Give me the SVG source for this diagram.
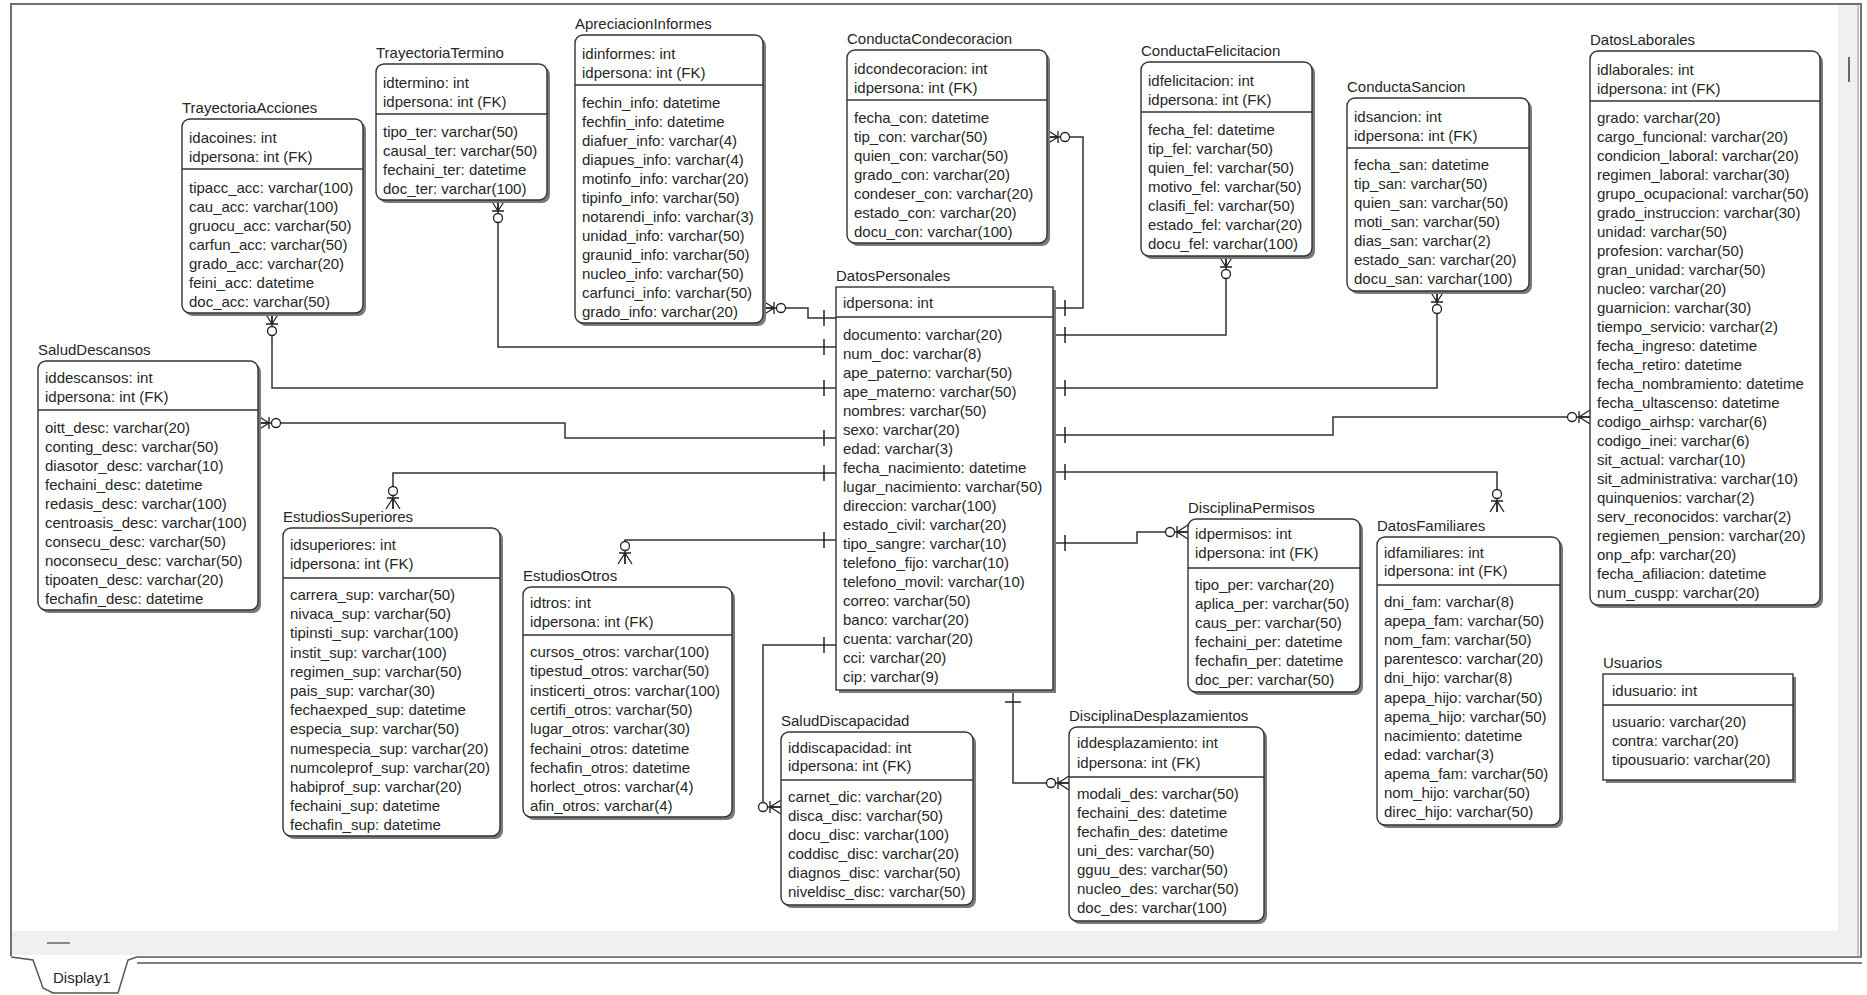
<svg xmlns="http://www.w3.org/2000/svg" width="1867" height="995" viewBox="0 0 1867 995">
<style>
text{font-family:"Liberation Sans",Arial,sans-serif;font-size:15px;fill:#262626}
.sh{fill:#7a7a7a}
.bx{fill:#fff;stroke:#333;stroke-width:1.4}
.dv{stroke:#333;stroke-width:1.4}
.cn{fill:none;stroke:#333;stroke-width:1.5}
.frm{fill:none;stroke:#707070;stroke-width:2}
</style>
<defs>
<marker id="zm" viewBox="-28 -10 30 20" refX="0" refY="0" markerWidth="30" markerHeight="20" markerUnits="userSpaceOnUse" orient="auto">
<path d="M-11,0 L0,-7 M-11,0 L0,0 M-11,0 L0,7 M-11,-6 L-11,6" fill="none" stroke="#222" stroke-width="1.3"/>
<circle cx="-18" cy="0" r="4.5" fill="#fff" stroke="#222" stroke-width="1.3"/>
</marker>
<marker id="one" viewBox="-20 -10 22 20" refX="0" refY="0" markerWidth="22" markerHeight="20" markerUnits="userSpaceOnUse" orient="auto-start-reverse">
<path d="M-12,-8 L-12,8" fill="none" stroke="#222" stroke-width="1.5"/>
</marker>
</defs>
<rect x="0" y="0" width="1867" height="995" fill="#fff"/>
<g id="frame">
<rect x="1838" y="5" width="21" height="927" fill="#f0f0f0"/>
<line x1="1849" y1="57" x2="1849" y2="82" stroke="#666" stroke-width="2"/>
<rect x="12" y="931" width="1847" height="24" fill="#f0f0f0"/>
<line x1="47" y1="943" x2="70" y2="943" stroke="#888" stroke-width="2"/>
<path class="frm" d="M11,956 V4 H1861 V956"/>
<line x1="1858" y1="5" x2="1858" y2="956" stroke="#999" stroke-width="1"/>
<path d="M11,957 L33,960 L43,988 L53,993 L118,993 L128,960 L137,957 H1862" fill="none" stroke="#555" stroke-width="1.5"/>
<line x1="137" y1="963" x2="1862" y2="963" stroke="#555" stroke-width="1.5"/>
<text x="53" y="983">Display1</text>
</g>
<g id="connectors">
<path class="cn" marker-start="url(#one)" marker-end="url(#zm)" d="M836,318 H808 V308 H763"/>
<path class="cn" marker-start="url(#one)" marker-end="url(#zm)" d="M836,347 H498 V200"/>
<path class="cn" marker-start="url(#one)" marker-end="url(#zm)" d="M836,388 H272 V313"/>
<path class="cn" marker-start="url(#one)" marker-end="url(#zm)" d="M836,438 H565 V423 H258"/>
<path class="cn" marker-start="url(#one)" marker-end="url(#zm)" d="M836,473 H393 V509"/>
<path class="cn" marker-start="url(#one)" marker-end="url(#zm)" d="M836,540 H625 V564"/>
<path class="cn" marker-start="url(#one)" marker-end="url(#zm)" d="M836,645 H763 V807 H781"/>
<path class="cn" marker-start="url(#one)" marker-end="url(#zm)" d="M1053,308 H1083 V137 H1047"/>
<path class="cn" marker-start="url(#one)" marker-end="url(#zm)" d="M1053,335 H1226 V256"/>
<path class="cn" marker-start="url(#one)" marker-end="url(#zm)" d="M1053,388 H1437 V291"/>
<path class="cn" marker-start="url(#one)" marker-end="url(#zm)" d="M1053,435 H1333 V417 H1590"/>
<path class="cn" marker-start="url(#one)" marker-end="url(#zm)" d="M1053,472 H1497 V512"/>
<path class="cn" marker-start="url(#one)" marker-end="url(#zm)" d="M1053,543 H1137 V532 H1188"/>
<path class="cn" marker-start="url(#one)" marker-end="url(#zm)" d="M1013,690 V783 H1069"/>
</g>

<g id="TrayectoriaAcciones" transform="translate(182,119)">
<text x="0" y="-6">TrayectoriaAcciones</text>
<rect class="sh" x="3" y="3" width="181" height="194" rx="8"/>
<rect class="bx" width="181" height="194" rx="8"/>
<line class="dv" x1="0" y1="50" x2="181" y2="50"/>
<text x="7" y="24">idacoines: int</text>
<text x="7" y="43">idpersona: int (FK)</text>
<text x="7" y="74"><tspan>tipacc_acc: varchar(100)</tspan><tspan x="7" dy="19">cau_acc: varchar(100)</tspan><tspan x="7" dy="19">gruocu_acc: varchar(50)</tspan><tspan x="7" dy="19">carfun_acc: varchar(50)</tspan><tspan x="7" dy="19">grado_acc: varchar(20)</tspan><tspan x="7" dy="19">feini_acc: datetime</tspan><tspan x="7" dy="19">doc_acc: varchar(50)</tspan></text>
</g>

<g id="TrayectoriaTermino" transform="translate(376,64)">
<text x="0" y="-6">TrayectoriaTermino</text>
<rect class="sh" x="3" y="3" width="171" height="136" rx="8"/>
<rect class="bx" width="171" height="136" rx="8"/>
<line class="dv" x1="0" y1="50" x2="171" y2="50"/>
<text x="7" y="24">idtermino: int</text>
<text x="7" y="43">idpersona: int (FK)</text>
<text x="7" y="73"><tspan>tipo_ter: varchar(50)</tspan><tspan x="7" dy="19">causal_ter: varchar(50)</tspan><tspan x="7" dy="19">fechaini_ter: datetime</tspan><tspan x="7" dy="19">doc_ter: varchar(100)</tspan></text>
</g>

<g id="ApreciacionInformes" transform="translate(575,35)">
<text x="0" y="-6">ApreciacionInformes</text>
<rect class="sh" x="3" y="3" width="188" height="288" rx="8"/>
<rect class="bx" width="188" height="288" rx="8"/>
<line class="dv" x1="0" y1="50" x2="188" y2="50"/>
<text x="7" y="24">idinformes: int</text>
<text x="7" y="43">idpersona: int (FK)</text>
<text x="7" y="73"><tspan>fechin_info: datetime</tspan><tspan x="7" dy="19">fechfin_info: datetime</tspan><tspan x="7" dy="19">diafuer_info: varchar(4)</tspan><tspan x="7" dy="19">diapues_info: varchar(4)</tspan><tspan x="7" dy="19">motinfo_info: varchar(20)</tspan><tspan x="7" dy="19">tipinfo_info: varchar(50)</tspan><tspan x="7" dy="19">notarendi_info: varchar(3)</tspan><tspan x="7" dy="19">unidad_info: varchar(50)</tspan><tspan x="7" dy="19">graunid_info: varchar(50)</tspan><tspan x="7" dy="19">nucleo_info: varchar(50)</tspan><tspan x="7" dy="19">carfunci_info: varchar(50)</tspan><tspan x="7" dy="19">grado_info: varchar(20)</tspan></text>
</g>

<g id="ConductaCondecoracion" transform="translate(847,50)">
<text x="0" y="-6">ConductaCondecoracion</text>
<rect class="sh" x="3" y="3" width="200" height="193" rx="8"/>
<rect class="bx" width="200" height="193" rx="8"/>
<line class="dv" x1="0" y1="50" x2="200" y2="50"/>
<text x="7" y="24">idcondecoracion: int</text>
<text x="7" y="43">idpersona: int (FK)</text>
<text x="7" y="73"><tspan>fecha_con: datetime</tspan><tspan x="7" dy="19">tip_con: varchar(50)</tspan><tspan x="7" dy="19">quien_con: varchar(50)</tspan><tspan x="7" dy="19">grado_con: varchar(20)</tspan><tspan x="7" dy="19">condeser_con: varchar(20)</tspan><tspan x="7" dy="19">estado_con: varchar(20)</tspan><tspan x="7" dy="19">docu_con: varchar(100)</tspan></text>
</g>

<g id="ConductaFelicitacion" transform="translate(1141,62)">
<text x="0" y="-6">ConductaFelicitacion</text>
<rect class="sh" x="3" y="3" width="171" height="194" rx="8"/>
<rect class="bx" width="171" height="194" rx="8"/>
<line class="dv" x1="0" y1="50" x2="171" y2="50"/>
<text x="7" y="24">idfelicitacion: int</text>
<text x="7" y="43">idpersona: int (FK)</text>
<text x="7" y="73"><tspan>fecha_fel: datetime</tspan><tspan x="7" dy="19">tip_fel: varchar(50)</tspan><tspan x="7" dy="19">quien_fel: varchar(50)</tspan><tspan x="7" dy="19">motivo_fel: varchar(50)</tspan><tspan x="7" dy="19">clasifi_fel: varchar(50)</tspan><tspan x="7" dy="19">estado_fel: varchar(20)</tspan><tspan x="7" dy="19">docu_fel: varchar(100)</tspan></text>
</g>

<g id="ConductaSancion" transform="translate(1347,98)">
<text x="0" y="-6">ConductaSancion</text>
<rect class="sh" x="3" y="3" width="182" height="193" rx="8"/>
<rect class="bx" width="182" height="193" rx="8"/>
<line class="dv" x1="0" y1="50" x2="182" y2="50"/>
<text x="7" y="24">idsancion: int</text>
<text x="7" y="43">idpersona: int (FK)</text>
<text x="7" y="72"><tspan>fecha_san: datetime</tspan><tspan x="7" dy="19">tip_san: varchar(50)</tspan><tspan x="7" dy="19">quien_san: varchar(50)</tspan><tspan x="7" dy="19">moti_san: varchar(50)</tspan><tspan x="7" dy="19">dias_san: varchar(2)</tspan><tspan x="7" dy="19">estado_san: varchar(20)</tspan><tspan x="7" dy="19">docu_san: varchar(100)</tspan></text>
</g>

<g id="DatosLaborales" transform="translate(1590,51)">
<text x="0" y="-6">DatosLaborales</text>
<rect class="sh" x="3" y="3" width="230" height="554" rx="8"/>
<rect class="bx" width="230" height="554" rx="8"/>
<line class="dv" x1="0" y1="50" x2="230" y2="50"/>
<text x="7" y="24">idlaborales: int</text>
<text x="7" y="43">idpersona: int (FK)</text>
<text x="7" y="72"><tspan>grado: varchar(20)</tspan><tspan x="7" dy="19">cargo_funcional: varchar(20)</tspan><tspan x="7" dy="19">condicion_laboral: varchar(20)</tspan><tspan x="7" dy="19">regimen_laboral: varchar(30)</tspan><tspan x="7" dy="19">grupo_ocupacional: varchar(50)</tspan><tspan x="7" dy="19">grado_instruccion: varchar(30)</tspan><tspan x="7" dy="19">unidad: varchar(50)</tspan><tspan x="7" dy="19">profesion: varchar(50)</tspan><tspan x="7" dy="19">gran_unidad: varchar(50)</tspan><tspan x="7" dy="19">nucleo: varchar(20)</tspan><tspan x="7" dy="19">guarnicion: varchar(30)</tspan><tspan x="7" dy="19">tiempo_servicio: varchar(2)</tspan><tspan x="7" dy="19">fecha_ingreso: datetime</tspan><tspan x="7" dy="19">fecha_retiro: datetime</tspan><tspan x="7" dy="19">fecha_nombramiento: datetime</tspan><tspan x="7" dy="19">fecha_ultascenso: datetime</tspan><tspan x="7" dy="19">codigo_airhsp: varchar(6)</tspan><tspan x="7" dy="19">codigo_inei: varchar(6)</tspan><tspan x="7" dy="19">sit_actual: varchar(10)</tspan><tspan x="7" dy="19">sit_administrativa: varchar(10)</tspan><tspan x="7" dy="19">quinquenios: varchar(2)</tspan><tspan x="7" dy="19">serv_reconocidos: varchar(2)</tspan><tspan x="7" dy="19">regiemen_pension: varchar(20)</tspan><tspan x="7" dy="19">onp_afp: varchar(20)</tspan><tspan x="7" dy="19">fecha_afiliacion: datetime</tspan><tspan x="7" dy="19">num_cuspp: varchar(20)</tspan></text>
</g>

<g id="DatosPersonales" transform="translate(836,287)">
<text x="0" y="-6">DatosPersonales</text>
<rect class="sh" x="3" y="3" width="217" height="403"/>
<rect class="bx" width="217" height="403"/>
<line class="dv" x1="0" y1="30" x2="217" y2="30"/>
<text x="7" y="21">idpersona: int</text>
<text x="7" y="53"><tspan>documento: varchar(20)</tspan><tspan x="7" dy="19">num_doc: varchar(8)</tspan><tspan x="7" dy="19">ape_paterno: varchar(50)</tspan><tspan x="7" dy="19">ape_materno: varchar(50)</tspan><tspan x="7" dy="19">nombres: varchar(50)</tspan><tspan x="7" dy="19">sexo: varchar(20)</tspan><tspan x="7" dy="19">edad: varchar(3)</tspan><tspan x="7" dy="19">fecha_nacimiento: datetime</tspan><tspan x="7" dy="19">lugar_nacimiento: varchar(50)</tspan><tspan x="7" dy="19">direccion: varchar(100)</tspan><tspan x="7" dy="19">estado_civil: varchar(20)</tspan><tspan x="7" dy="19">tipo_sangre: varchar(10)</tspan><tspan x="7" dy="19">telefono_fijo: varchar(10)</tspan><tspan x="7" dy="19">telefono_movil: varchar(10)</tspan><tspan x="7" dy="19">correo: varchar(50)</tspan><tspan x="7" dy="19">banco: varchar(20)</tspan><tspan x="7" dy="19">cuenta: varchar(20)</tspan><tspan x="7" dy="19">cci: varchar(20)</tspan><tspan x="7" dy="19">cip: varchar(9)</tspan></text>
</g>

<g id="SaludDescansos" transform="translate(38,361)">
<text x="0" y="-6">SaludDescansos</text>
<rect class="sh" x="3" y="3" width="220" height="249" rx="8"/>
<rect class="bx" width="220" height="249" rx="8"/>
<line class="dv" x1="0" y1="49" x2="220" y2="49"/>
<text x="7" y="22">iddescansos: int</text>
<text x="7" y="41">idpersona: int (FK)</text>
<text x="7" y="72"><tspan>oitt_desc: varchar(20)</tspan><tspan x="7" dy="19">conting_desc: varchar(50)</tspan><tspan x="7" dy="19">diasotor_desc: varchar(10)</tspan><tspan x="7" dy="19">fechaini_desc: datetime</tspan><tspan x="7" dy="19">redasis_desc: varchar(100)</tspan><tspan x="7" dy="19">centroasis_desc: varchar(100)</tspan><tspan x="7" dy="19">consecu_desc: varchar(50)</tspan><tspan x="7" dy="19">noconsecu_desc: varchar(50)</tspan><tspan x="7" dy="19">tipoaten_desc: varchar(20)</tspan><tspan x="7" dy="19">fechafin_desc: datetime</tspan></text>
</g>

<g id="EstudiosSuperiores" transform="translate(283,528)">
<text x="0" y="-6">EstudiosSuperiores</text>
<rect class="sh" x="3" y="3" width="217" height="308" rx="8"/>
<rect class="bx" width="217" height="308" rx="8"/>
<line class="dv" x1="0" y1="50" x2="217" y2="50"/>
<text x="7" y="22">idsuperiores: int</text>
<text x="7" y="41">idpersona: int (FK)</text>
<text x="7" y="72"><tspan>carrera_sup: varchar(50)</tspan><tspan x="7" dy="19.2">nivaca_sup: varchar(50)</tspan><tspan x="7" dy="19.2">tipinsti_sup: varchar(100)</tspan><tspan x="7" dy="19.2">instit_sup: varchar(100)</tspan><tspan x="7" dy="19.2">regimen_sup: varchar(50)</tspan><tspan x="7" dy="19.2">pais_sup: varchar(30)</tspan><tspan x="7" dy="19.2">fechaexped_sup: datetime</tspan><tspan x="7" dy="19.2">especia_sup: varchar(50)</tspan><tspan x="7" dy="19.2">numespecia_sup: varchar(20)</tspan><tspan x="7" dy="19.2">numcoleprof_sup: varchar(20)</tspan><tspan x="7" dy="19.2">habiprof_sup: varchar(20)</tspan><tspan x="7" dy="19.2">fechaini_sup: datetime</tspan><tspan x="7" dy="19.2">fechafin_sup: datetime</tspan></text>
</g>

<g id="EstudiosOtros" transform="translate(523,587)">
<text x="0" y="-6">EstudiosOtros</text>
<rect class="sh" x="3" y="3" width="209" height="230" rx="8"/>
<rect class="bx" width="209" height="230" rx="8"/>
<line class="dv" x1="0" y1="48" x2="209" y2="48"/>
<text x="7" y="21">idtros: int</text>
<text x="7" y="40">idpersona: int (FK)</text>
<text x="7" y="70"><tspan>cursos_otros: varchar(100)</tspan><tspan x="7" dy="19.3">tipestud_otros: varchar(50)</tspan><tspan x="7" dy="19.3">insticerti_otros: varchar(100)</tspan><tspan x="7" dy="19.3">certifi_otros: varchar(50)</tspan><tspan x="7" dy="19.3">lugar_otros: varchar(30)</tspan><tspan x="7" dy="19.3">fechaini_otros: datetime</tspan><tspan x="7" dy="19.3">fechafin_otros: datetime</tspan><tspan x="7" dy="19.3">horlect_otros: varchar(4)</tspan><tspan x="7" dy="19.3">afin_otros: varchar(4)</tspan></text>
</g>

<g id="SaludDiscapacidad" transform="translate(781,732)">
<text x="0" y="-6">SaludDiscapacidad</text>
<rect class="sh" x="3" y="3" width="192" height="173" rx="8"/>
<rect class="bx" width="192" height="173" rx="8"/>
<line class="dv" x1="0" y1="48" x2="192" y2="48"/>
<text x="7" y="21">iddiscapacidad: int</text>
<text x="7" y="39">idpersona: int (FK)</text>
<text x="7" y="70"><tspan>carnet_dic: varchar(20)</tspan><tspan x="7" dy="19">disca_disc: varchar(50)</tspan><tspan x="7" dy="19">docu_disc: varchar(100)</tspan><tspan x="7" dy="19">coddisc_disc: varchar(20)</tspan><tspan x="7" dy="19">diagnos_disc: varchar(50)</tspan><tspan x="7" dy="19">niveldisc_disc: varchar(50)</tspan></text>
</g>

<g id="DisciplinaPermisos" transform="translate(1188,519)">
<text x="0" y="-6">DisciplinaPermisos</text>
<rect class="sh" x="3" y="3" width="172" height="173" rx="8"/>
<rect class="bx" width="172" height="173" rx="8"/>
<line class="dv" x1="0" y1="49" x2="172" y2="49"/>
<text x="7" y="20">idpermisos: int</text>
<text x="7" y="39">idpersona: int (FK)</text>
<text x="7" y="71"><tspan>tipo_per: varchar(20)</tspan><tspan x="7" dy="19">aplica_per: varchar(50)</tspan><tspan x="7" dy="19">caus_per: varchar(50)</tspan><tspan x="7" dy="19">fechaini_per: datetime</tspan><tspan x="7" dy="19">fechafin_per: datetime</tspan><tspan x="7" dy="19">doc_per: varchar(50)</tspan></text>
</g>

<g id="DatosFamiliares" transform="translate(1377,537)">
<text x="0" y="-6">DatosFamiliares</text>
<rect class="sh" x="3" y="3" width="183" height="288" rx="8"/>
<rect class="bx" width="183" height="288" rx="8"/>
<line class="dv" x1="0" y1="48" x2="183" y2="48"/>
<text x="7" y="21">idfamiliares: int</text>
<text x="7" y="39">idpersona: int (FK)</text>
<text x="7" y="70"><tspan>dni_fam: varchar(8)</tspan><tspan x="7" dy="19.1">apepa_fam: varchar(50)</tspan><tspan x="7" dy="19.1">nom_fam: varchar(50)</tspan><tspan x="7" dy="19.1">parentesco: varchar(20)</tspan><tspan x="7" dy="19.1">dni_hijo: varchar(8)</tspan><tspan x="7" dy="19.1">apepa_hijo: varchar(50)</tspan><tspan x="7" dy="19.1">apema_hijo: varchar(50)</tspan><tspan x="7" dy="19.1">nacimiento: datetime</tspan><tspan x="7" dy="19.1">edad: varchar(3)</tspan><tspan x="7" dy="19.1">apema_fam: varchar(50)</tspan><tspan x="7" dy="19.1">nom_hijo: varchar(50)</tspan><tspan x="7" dy="19.1">direc_hijo: varchar(50)</tspan></text>
</g>

<g id="Usuarios" transform="translate(1603,674)">
<text x="0" y="-6">Usuarios</text>
<rect class="sh" x="3" y="3" width="190" height="106"/>
<rect class="bx" width="190" height="106"/>
<line class="dv" x1="0" y1="31" x2="190" y2="31"/>
<text x="9" y="22">idusuario: int</text>
<text x="9" y="53"><tspan>usuario: varchar(20)</tspan><tspan x="9" dy="19">contra: varchar(20)</tspan><tspan x="9" dy="19">tipousuario: varchar(20)</tspan></text>
</g>

<g id="DisciplinaDesplazamientos" transform="translate(1069,727)">
<text x="0" y="-6">DisciplinaDesplazamientos</text>
<rect class="sh" x="3" y="3" width="195" height="194" rx="8"/>
<rect class="bx" width="195" height="194" rx="8"/>
<line class="dv" x1="0" y1="50" x2="195" y2="50"/>
<text x="8" y="21">iddesplazamiento: int</text>
<text x="8" y="41">idpersona: int (FK)</text>
<text x="8" y="72"><tspan>modali_des: varchar(50)</tspan><tspan x="8" dy="19">fechaini_des: datetime</tspan><tspan x="8" dy="19">fechafin_des: datetime</tspan><tspan x="8" dy="19">uni_des: varchar(50)</tspan><tspan x="8" dy="19">gguu_des: varchar(50)</tspan><tspan x="8" dy="19">nucleo_des: varchar(50)</tspan><tspan x="8" dy="19">doc_des: varchar(100)</tspan></text>
</g>
</svg>
